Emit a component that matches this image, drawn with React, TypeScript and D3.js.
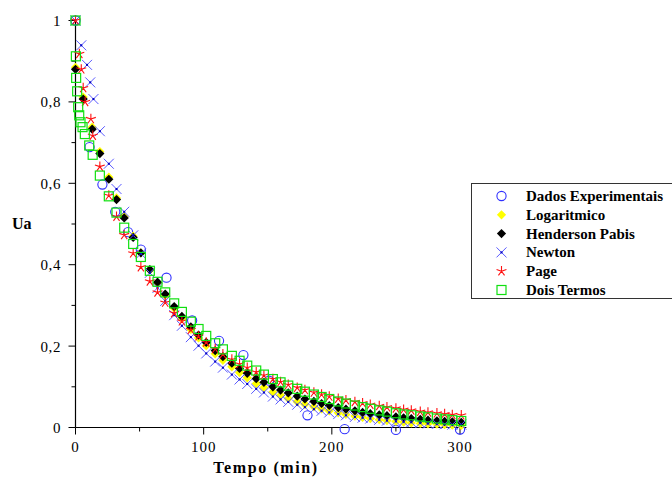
import React from "react";
import * as d3 from "d3";

// ---------- data ----------
const lateTimes = [19, 26, 32, 38, 45, 51, 58, 64, 70, 77, 83, 90, 96, 102, 109, 115, 122, 128, 134, 141, 147, 154, 160, 166, 173, 179, 186, 192, 198, 205, 211, 218, 224, 230, 237, 243, 250, 256, 262, 269, 275, 282, 288, 294, 301];

const expTimes = [0, 11, 21, 31, 41, 51, 71, 91, 112, 131, 151, 181, 210, 250, 300];
const expValues = [1.0, 0.689, 0.597, 0.53, 0.48, 0.437, 0.368, 0.263, 0.213, 0.178, 0.115, 0.03, -0.004, -0.006, -0.005];

const logEarlyTimes = [0, 6, 13];
const logEarlyValues = [0.885, 0.812, 0.738];
const logLateValues = [0.678, 0.615, 0.564, 0.518, 0.47, 0.429, 0.387, 0.355, 0.325, 0.293, 0.268, 0.241, 0.22, 0.201, 0.181, 0.165, 0.149, 0.135, 0.122, 0.108, 0.098, 0.087, 0.079, 0.071, 0.063, 0.057, 0.051, 0.046, 0.041, 0.036, 0.032, 0.028, 0.025, 0.022, 0.019, 0.017, 0.015, 0.013, 0.011, 0.01, 0.009, 0.008, 0.007, 0.006, 0.005];

const hpEarlyTimes = [0, 6, 13];
const hpEarlyValues = [0.88, 0.807, 0.733];
const hpLateValues = [0.673, 0.61, 0.56, 0.515, 0.467, 0.429, 0.388, 0.357, 0.328, 0.297, 0.273, 0.247, 0.227, 0.209, 0.189, 0.174, 0.158, 0.145, 0.133, 0.12, 0.111, 0.1, 0.092, 0.085, 0.077, 0.07, 0.064, 0.059, 0.054, 0.049, 0.045, 0.041, 0.037, 0.034, 0.031, 0.029, 0.026, 0.024, 0.022, 0.02, 0.018, 0.0165, 0.015, 0.014, 0.0126];

const newtonEarlyTimes = [0, 4.5, 9, 11.5, 14];
const newtonEarlyValues = [1.0, 0.939, 0.891, 0.848, 0.807];
const newtonLateValues = [0.728, 0.648, 0.586, 0.53, 0.472, 0.427, 0.38, 0.343, 0.311, 0.276, 0.25, 0.222, 0.201, 0.182, 0.162, 0.147, 0.13, 0.118, 0.107, 0.095, 0.086, 0.076, 0.069, 0.063, 0.056, 0.05, 0.045, 0.041, 0.037, 0.033, 0.03, 0.026, 0.024, 0.022, 0.019, 0.017, 0.015, 0.014, 0.013, 0.011, 0.01, 0.009, 0.008, 0.007, 0.007];

const pageEarlyTimes = [0, 3, 4.5, 6, 7.5, 12, 13.5];
const pageEarlyValues = [1.0, 0.918, 0.88, 0.834, 0.8, 0.758, 0.717];
const pageLateValues = [0.641, 0.57, 0.518, 0.473, 0.428, 0.394, 0.359, 0.332, 0.307, 0.281, 0.261, 0.24, 0.224, 0.209, 0.193, 0.18, 0.167, 0.156, 0.147, 0.136, 0.128, 0.119, 0.112, 0.105, 0.098, 0.092, 0.086, 0.081, 0.076, 0.071, 0.067, 0.063, 0.06, 0.056, 0.053, 0.05, 0.047, 0.044, 0.042, 0.039, 0.037, 0.035, 0.033, 0.031, 0.03];

const dtEarlyTimes = [0, 0.3, 0.5, 1.3, 2.1, 2.9, 3.9, 5.5, 7.3, 10.7, 13.4];
const dtEarlyValues = [1.0, 0.912, 0.859, 0.826, 0.787, 0.767, 0.75, 0.738, 0.721, 0.693, 0.67];
const dtLateValues = [0.619, 0.568, 0.528, 0.491, 0.451, 0.419, 0.385, 0.358, 0.332, 0.305, 0.284, 0.26, 0.242, 0.225, 0.207, 0.192, 0.176, 0.164, 0.152, 0.14, 0.13, 0.119, 0.111, 0.103, 0.095, 0.088, 0.081, 0.075, 0.07, 0.064, 0.059, 0.054, 0.05, 0.046, 0.042, 0.039, 0.035, 0.032, 0.03, 0.027, 0.025, 0.022, 0.02, 0.018, 0.016];

const xMajorTicks = [0, 100, 200, 300];
const xMinorTicks = [50, 150, 250];
const yMajorTicks = [0, 0.2, 0.4, 0.6, 0.8, 1];
const yMinorTicks = [0.1, 0.3, 0.5, 0.7, 0.9];

const legendLabels = ["Dados Experimentais", "Logaritmico", "Henderson Pabis", "Newton", "Page", "Dois Termos"];
const markerKinds = ["circle", "ydiamond", "kdiamond", "cross", "star", "square"];

// ---------- layout ----------
const W = 672;
const H = 477;
const FONT = "'Liberation Serif', 'Times New Roman', 'DejaVu Serif', serif";
const x = d3.scaleLinear().domain([0, 300]).range([75.5, 460]);
const y = d3.scaleLinear().domain([0, 1]).range([427.5, 20.5]);

const zip = (ts: number[], vs: number[]) => ts.map((t, i) => [t, vs[i]] as [number, number]);

const seriesPoints: [number, number][][] = [
  zip(expTimes, expValues),
  zip([...logEarlyTimes, ...lateTimes], [...logEarlyValues, ...logLateValues]),
  zip([...hpEarlyTimes, ...lateTimes], [...hpEarlyValues, ...hpLateValues]),
  zip([...newtonEarlyTimes, ...lateTimes], [...newtonEarlyValues, ...newtonLateValues]),
  zip([...pageEarlyTimes, ...lateTimes], [...pageEarlyValues, ...pageLateValues]),
  zip([...dtEarlyTimes, ...lateTimes], [...dtEarlyValues, ...dtLateValues]),
];

const starArms = [-90, -18, 54, 126, 198];

function Marker({ kind, cx, cy }: { kind: string; cx: number; cy: number }) {
  switch (kind) {
    case "circle":
      return <circle cx={cx} cy={cy} r={4.6} fill="none" stroke="#3030ff" strokeWidth={1.1} />;
    case "ydiamond":
      return <path d={`M${cx},${cy - 4.6}L${cx + 4.6},${cy}L${cx},${cy + 4.6}L${cx - 4.6},${cy}Z`} fill="#ffff00" />;
    case "kdiamond":
      return <path d={`M${cx},${cy - 4.6}L${cx + 4.6},${cy}L${cx},${cy + 4.6}L${cx - 4.6},${cy}Z`} fill="#000000" />;
    case "cross":
      return (
        <g>
          <path d={`M${cx - 5},${cy - 5}L${cx + 5},${cy + 5}M${cx - 5},${cy + 5}L${cx + 5},${cy - 5}`} stroke="#5a5aff" strokeWidth={1} fill="none" />
          <rect x={cx - 1} y={cy - 1} width={2} height={2} fill="#0000c0" />
        </g>
      );
    case "star":
      return (
        <path
          d={starArms.map((a) => `M${cx},${cy}L${cx + 5.2 * Math.cos((a * Math.PI) / 180)},${cy + 5.2 * Math.sin((a * Math.PI) / 180)}`).join("")}
          stroke="#ff1010"
          strokeWidth={1.1}
          fill="none"
        />
      );
    case "square":
      return <rect x={cx - 4.5} y={cy - 4.5} width={9} height={9} fill="none" stroke="#10e010" strokeWidth={1.2} />;
    default:
      return null;
  }
}

const fmtY = (v: number) => (v === 0 || v === 1 ? String(v) : d3.format(".1f")(v).replace(".", ","));

export default function App() {
  const legendX = 471.5;
  const legendY = 183.5;
  const ts = { fontFamily: FONT };
  return (
    <svg width={W} height={H} style={{ position: "absolute", left: 0, top: 0, background: "#fff" }}>
      <rect x={0} y={0} width={W} height={H} fill="#fff" />
      {/* axes */}
      <line x1={x(0)} y1={y(1.004)} x2={x(0)} y2={y(0)} stroke="#000" strokeWidth={1.2} />
      <line x1={x(0)} y1={y(0)} x2={x(305)} y2={y(0)} stroke="#000" strokeWidth={1.2} />
      {yMajorTicks.map((v) => (
        <g key={"ym" + v}>
          <line x1={x(0) - 7} x2={x(0)} y1={y(v)} y2={y(v)} stroke="#000" />
          <text x={61} y={y(v)} dy="0.36em" textAnchor="end" fontSize={15} letterSpacing={0.6} style={ts}>
            {fmtY(v)}
          </text>
        </g>
      ))}
      {yMinorTicks.map((v) => (
        <line key={"yn" + v} x1={x(0) - 4} x2={x(0)} y1={y(v)} y2={y(v)} stroke="#000" />
      ))}
      {xMajorTicks.map((v) => (
        <g key={"xm" + v}>
          <line x1={x(v)} x2={x(v)} y1={y(0)} y2={y(0) + 7} stroke="#000" />
          <text x={x(v)} y={452} textAnchor="middle" fontSize={15} letterSpacing={1} style={ts}>
            {v}
          </text>
        </g>
      ))}
      {xMinorTicks.map((v) => (
        <line key={"xn" + v} x1={x(v)} x2={x(v)} y1={y(0)} y2={y(0) + 4} stroke="#000" />
      ))}
      <text x={266} y={473} textAnchor="middle" fontSize={16} fontWeight="bold" letterSpacing={1.6} style={ts}>
        Tempo (min)
      </text>
      <text x={12} y={229} fontSize={16} fontWeight="bold" style={ts}>
        Ua
      </text>
      {/* series */}
      {seriesPoints.map((pts, si) => (
        <g key={"s" + si}>
          {pts.map(([t, v], i) => (
            <Marker key={i} kind={markerKinds[si]} cx={x(t)} cy={y(v)} />
          ))}
        </g>
      ))}
      {/* legend */}
      <rect x={legendX} y={legendY} width={260} height={115} fill="#fff" stroke="#333" strokeWidth={1} />
      {legendLabels.map((lab, i) => {
        const cy = 196 + i * 18.8;
        return (
          <g key={lab}>
            <Marker kind={markerKinds[i]} cx={501.5} cy={cy} />
            <text x={526} y={cy + 5} fontSize={15} fontWeight="bold" style={ts}>
              {lab}
            </text>
          </g>
        );
      })}
    </svg>
  );
}
